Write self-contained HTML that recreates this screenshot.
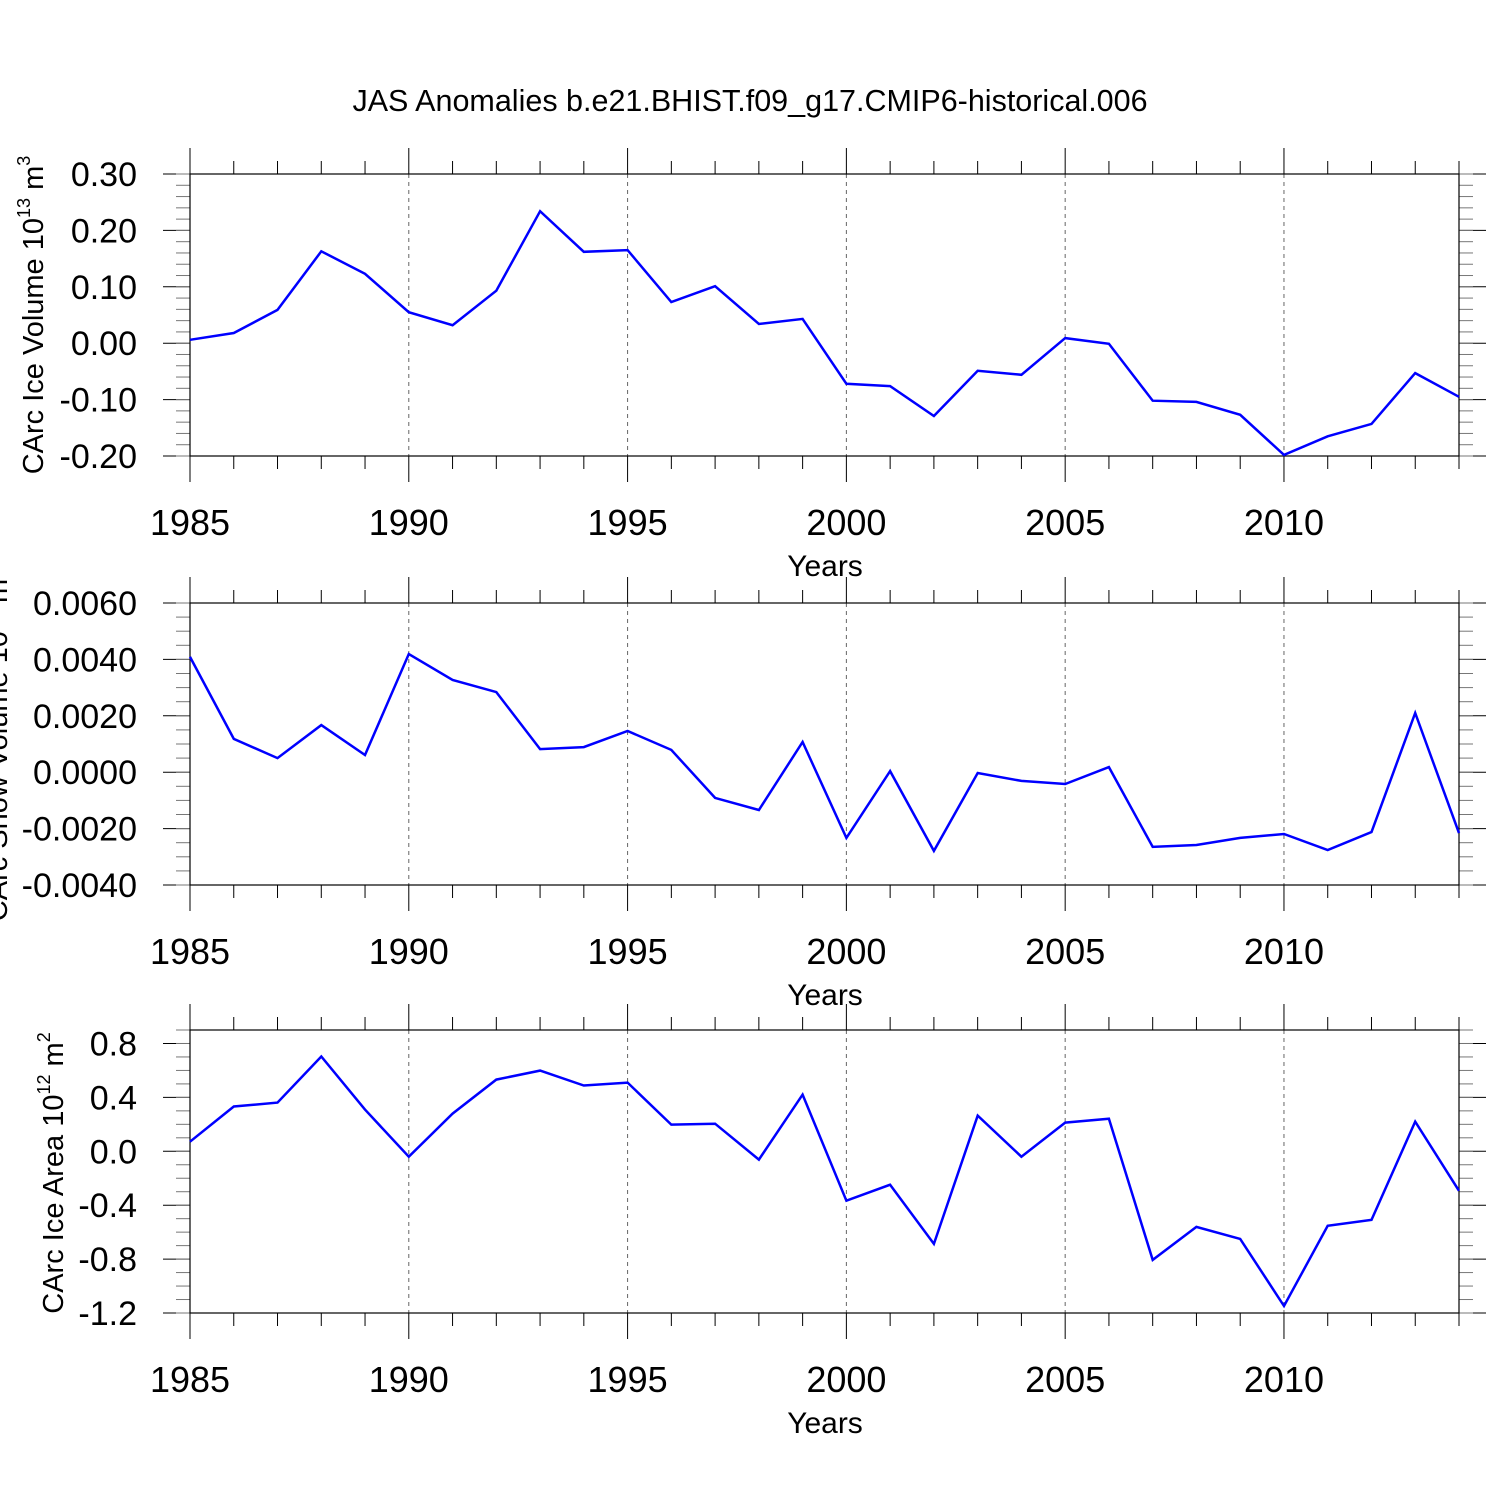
<!DOCTYPE html>
<html><head><meta charset="utf-8"><style>
html,body{margin:0;padding:0;background:#fff;}
svg{display:block;font-family:"Liberation Sans",sans-serif;}
</style></head><body>
<svg id="chart" width="1500" height="1500" viewBox="0 0 1500 1500" xmlns="http://www.w3.org/2000/svg">
<rect width="1500" height="1500" fill="#fff"/>
<text x="750" y="111" font-size="30.5" text-anchor="middle">JAS Anomalies b.e21.BHIST.f09_g17.CMIP6-historical.006</text>
</svg>
<script>
const years = [1985,1986,1987,1988,1989,1990,1991,1992,1993,1994,1995,1996,1997,1998,1999,2000,2001,2002,2003,2004,2005,2006,2007,2008,2009,2010,2011,2012,2013,2014];
const iceVolume = [0.006,0.018,0.059,0.163,0.123,0.055,0.032,0.093,0.234,0.162,0.165,0.073,0.101,0.034,0.043,-0.072,-0.076,-0.129,-0.049,-0.056,0.009,-0.001,-0.102,-0.104,-0.127,-0.198,-0.165,-0.143,-0.053,-0.095];
const snowVolume = [0.00409,0.00118,0.00050,0.00167,0.00061,0.00419,0.00327,0.00284,0.00082,0.00089,0.00146,0.00079,-0.00091,-0.00134,0.00107,-0.00233,0.00004,-0.00279,-0.00003,-0.00031,-0.00042,0.00018,-0.00265,-0.00258,-0.00233,-0.00219,-0.00276,-0.00212,0.00210,-0.00216];
const iceArea = [0.071,0.332,0.361,0.703,0.309,-0.040,0.280,0.532,0.599,0.488,0.510,0.198,0.205,-0.062,0.421,-0.367,-0.248,-0.687,0.265,-0.040,0.213,0.242,-0.806,-0.561,-0.650,-1.148,-0.553,-0.509,0.220,-0.293];
const xTickYears = [1985,1990,1995,2000,2005,2010];
const volTicks = [0.30,0.20,0.10,0.00,-0.10,-0.20];
const volTickLabels = ["0.30","0.20","0.10","0.00","-0.10","-0.20"];
const snowTicks = [0.006,0.004,0.002,0,-0.002,-0.004];
const snowTickLabels = ["0.0060","0.0040","0.0020","0.0000","-0.0020","-0.0040"];
const areaTicks = [0.8,0.4,0.0,-0.4,-0.8,-1.2];
const areaTickLabels = ["0.8","0.4","0.0","-0.4","-0.8","-1.2"];

const NS="http://www.w3.org/2000/svg";
const svg=document.getElementById('chart');
const X0=190,X1=1459;
const xScale=y=>X0+(y-1985)*(X1-X0)/(2014-1985);
function mk(tag,attrs,parent){const e=document.createElementNS(NS,tag);for(const k in attrs)e.setAttribute(k,attrs[k]);(parent||svg).appendChild(e);return e;}

function panel(cfg){
  const g=mk('g',{});
  
  
  const yS=v=>cfg.top+(cfg.ymax-v)*(cfg.bottom-cfg.top)/(cfg.ymax-cfg.ymin);
  xTickYears.forEach(y=>{ if(y===1985) return;
    const l=mk('line',{x1:xScale(y),x2:xScale(y),y1:cfg.top,y2:cfg.bottom,stroke:'#666','stroke-width':1,'stroke-dasharray':'4,4'},g);
    
    
  });
  years.forEach(y=>{
    const major=xTickYears.includes(y);
    const len=major?26:13;
    mk('line',{x1:xScale(y),x2:xScale(y),y1:cfg.top-len,y2:cfg.top,stroke:'#000','stroke-width':1},g);
    mk('line',{x1:xScale(y),x2:xScale(y),y1:cfg.bottom,y2:cfg.bottom+len,stroke:'#000','stroke-width':1},g);
  });
  const step=cfg.ticks[0]-cfg.ticks[1];
  cfg.ticks.forEach((v,i)=>{
    const yy=yS(v);
    mk('line',{x1:X0-27,x2:X0,y1:yy,y2:yy,stroke:'#000','stroke-width':1},g);
    mk('line',{x1:X1,x2:X1+27,y1:yy,y2:yy,stroke:'#000','stroke-width':1},g);
    const t=mk('text',{x:137,y:yy+12,'font-size':34,'text-anchor':'end'},g);
    t.textContent=cfg.labels[i];
    
    
  });
  for(let v=cfg.ymin;v<=cfg.ymax+1e-12;v+=step/cfg.minor){
    const yy=yS(v);
    mk('line',{x1:X0-14,x2:X0,y1:yy,y2:yy,stroke:'#777','stroke-width':1},g);
    mk('line',{x1:X1,x2:X1+14,y1:yy,y2:yy,stroke:'#777','stroke-width':1},g);
  }
  const fr=mk('rect',{x:X0,y:cfg.top,width:X1-X0,height:cfg.bottom-cfg.top,fill:'none',stroke:'#000','stroke-width':1.2},g);
  
  
  xTickYears.forEach(y=>{
    const t=mk('text',{x:xScale(y),y:cfg.bottom+79,'font-size':36,'text-anchor':'middle'},g);
    t.textContent=String(y);
    
    
  });
  const xt=mk('text',{x:825,y:cfg.bottom+120,'font-size':30,'text-anchor':'middle'},g);
  xt.textContent='Years';
  
  
  const yt=mk('text',{x:0,y:0,'font-size':29,'text-anchor':'middle',transform:`translate(${cfg.tx},${cfg.ty}) rotate(-90)`},g);
  yt.innerHTML=cfg.title;
  
  
  const pts=cfg.data.map((v,i)=>xScale(years[i]).toFixed(1)+','+yS(v).toFixed(1)).join(' ');
  const pl=mk('polyline',{points:pts,fill:'none',stroke:'#0000ff','stroke-width':2.5,'stroke-linejoin':'miter'},g);
  
  
}
panel({name:'ice-volume-panel',top:174,bottom:456,ymax:0.30,ymin:-0.20,ticks:volTicks,labels:volTickLabels,minor:5,data:iceVolume,tx:43,ty:315,
 title:'CArc Ice Volume 10<tspan font-size="18" dy="-13">13</tspan><tspan dy="13"> m</tspan><tspan font-size="18" dy="-13">3</tspan>'});
panel({name:'snow-volume-panel',top:603,bottom:885,ymax:0.006,ymin:-0.004,ticks:snowTicks,labels:snowTickLabels,minor:4,data:snowVolume,tx:7,ty:745,
 title:'CArc Snow Volume 10<tspan font-size="18" dy="-13">13</tspan><tspan dy="13"> m</tspan><tspan font-size="18" dy="-13">3</tspan>'});
panel({name:'ice-area-panel',top:1030,bottom:1313,ymax:0.9,ymin:-1.2,ticks:areaTicks,labels:areaTickLabels,minor:4,data:iceArea,tx:63,ty:1173,
 title:'CArc Ice Area 10<tspan font-size="18" dy="-13">12</tspan><tspan dy="13"> m</tspan><tspan font-size="18" dy="-13">2</tspan>'});
</script>
</body></html>
